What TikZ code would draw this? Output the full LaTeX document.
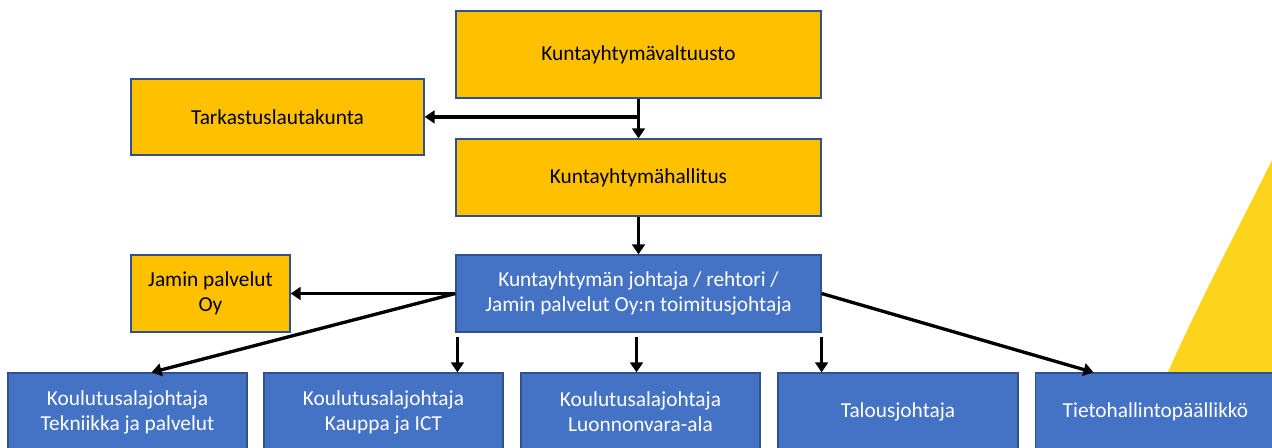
\documentclass[tikz,border=0pt]{standalone}
\usepackage{fontspec}
\setmainfont{Carlito}
\usetikzlibrary{arrows.meta,calc}
\definecolor{orgyellow}{HTML}{FFC000}
\definecolor{orgblue}{HTML}{4472C4}
\definecolor{orgborder}{HTML}{2F528F}
\definecolor{accentyellow}{HTML}{FDD41C}
\tikzset{
  orgbox/.style={draw=orgborder, line width=0.9pt, inner sep=0pt, align=center,
    font=\fontsize{16pt}{18.75pt}\selectfont},
  ybox/.style={orgbox, fill=orgyellow, text=black},
  bbox/.style={orgbox, fill=orgblue, text=white},
  conn/.style={line width=2.5pt, draw=black, -{Triangle[length=7.5pt,width=9.5pt]}},
}
\begin{document}
\begin{tikzpicture}[x=0.75pt,y=-0.75pt]
\useasboundingbox (0,0) rectangle (1272,447);
\clip (0,0) rectangle (1272,447);
\fill[white] (0,0) rectangle (1272,447);
% decorative yellow shape
\fill[accentyellow] (1131,460) -- (1168,372) .. controls (1200,300) and (1240,225) .. (1272,160) -- (1280,160) -- (1280,460) -- cycle;
% nodes
\node[ybox, minimum width=273.75pt, minimum height=65.25pt] (valt) at (638.5,54.5) {Kuntayhtymävaltuusto};
\node[ybox, minimum width=219.75pt, minimum height=57pt] (tark) at (277.5,117) {Tarkastuslautakunta};
\node[ybox, minimum width=273.75pt, minimum height=57.75pt] (hall) at (638.5,177.5) {Kuntayhtymähallitus};
\node[bbox, minimum width=273.75pt, minimum height=57.75pt] (joht) at (638.5,293.5) {Kuntayhtymän johtaja / rehtori /\\Jamin palvelut Oy:n toimitusjohtaja};
\node[ybox, minimum width=119.25pt, minimum height=57.75pt] (jamin) at (210.5,293.5) {Jamin palvelut\\Oy};
\node[bbox, minimum width=179.25pt, minimum height=58.5pt] (b1) at (127.5,412) {Koulutusalajohtaja\\Tekniikka ja palvelut};
\node[bbox, minimum width=179.25pt, minimum height=58.5pt] (b2) at (383.5,412) {Koulutusalajohtaja\\Kauppa ja ICT};
\node[bbox, minimum width=179.25pt, minimum height=58.5pt] (b3) at (640.5,412) {Koulutusalajohtaja\\Luonnonvara-ala};
\node[bbox, minimum width=180pt, minimum height=58.5pt] (b4) at (898,412) {Talousjohtaja};
\node[bbox, minimum width=180pt, minimum height=58.5pt] (b5) at (1155.5,412) {Tietohallintopäällikkö};
% connectors
\draw[conn] (valt.south) -- (hall.north);
\coordinate (split) at ($(valt.south)!0.46!(hall.north)$);
\draw[conn] (split) -- (split -| tark.east);
\draw[conn] (hall.south) -- (joht.north);
\draw[conn] (joht.west) -- (jamin.east);
\draw[conn] (joht.west) -- ([xshift=18pt]b1.north);
\coordinate (d2) at ([shift={(2,4)}]joht.south west);
\coordinate (d3) at ([shift={(-2,4)}]joht.south);
\coordinate (d4) at ([shift={(0,4)}]joht.south east);
\draw[conn] (d2) -- (d2 |- b2.north);
\draw[conn] (d3) -- (d3 |- b3.north);
\draw[conn] (d4) -- (d4 |- b4.north);
\draw[conn] (joht.east) -- ([xshift=-46.5pt]b5.north);
\end{tikzpicture}
\end{document}
